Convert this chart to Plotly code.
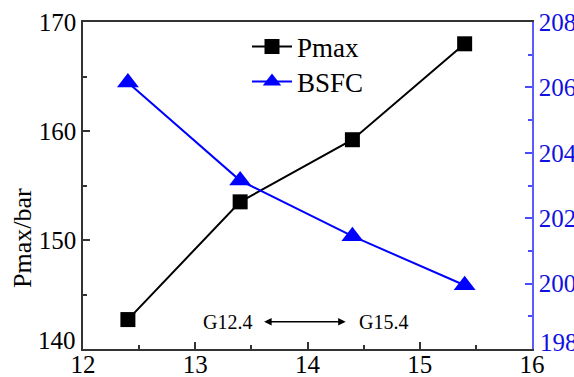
import plotly.graph_objects as go

x_vals = [12.4, 13.4, 14.4, 15.4]
pmax = [142.7, 153.5, 159.2, 168.0]
bsfc = [206.15, 203.15, 201.45, 199.95]

x_ticks = [12, 13, 14, 15, 16]
y1_ticks = [140, 150, 160, 170]
y2_ticks = [198, 200, 202, 204, 206, 208]

FONT = "Liberation Serif"
W, H = 574, 377
ml, mr, mt, mb = 83, 42, 22, 28
pw, ph = W - ml - mr, H - mt - mb

def px_x(p):
    return (p - ml) / pw

def px_y(p):
    return 1 - (p - mt) / ph

# lowest labels are lifted off the corner (drawn as annotations below)
y1_text = ["" if v == y1_ticks[0] else str(v) for v in y1_ticks]
y2_text = ["" if v == y2_ticks[0] else str(v) for v in y2_ticks]

fig = go.Figure()
fig.add_trace(go.Scatter(
    x=x_vals, y=pmax, name="Pmax", mode="lines+markers", legend="legend",
    line=dict(color="black", width=2),
    marker=dict(symbol="square", size=15, color="black"),
))
fig.add_trace(go.Scatter(
    x=x_vals, y=bsfc, name="BSFC", mode="lines+markers", yaxis="y2", legend="legend2",
    line=dict(color="#0000ff", width=2),
    marker=dict(symbol="triangle-up", size=19, color="#0000ff"),
))

leg_common = dict(xanchor="left", yanchor="middle", bgcolor="rgba(0,0,0,0)",
                  font=dict(size=27, family=FONT), itemwidth=40)

fig.update_layout(
    width=W, height=H,
    margin=dict(l=ml, r=mr, t=mt, b=mb, autoexpand=False),
    paper_bgcolor="white", plot_bgcolor="white",
    font=dict(family=FONT, size=25, color="black"),
    showlegend=True,
    legend=dict(x=px_x(247), y=px_y(47), **leg_common),
    legend2=dict(x=px_x(247), y=px_y(82), **leg_common),
    xaxis=dict(range=[12, 16], tickvals=x_ticks, ticks="inside", ticklen=7,
               tickwidth=1.5, tickcolor="#333", showline=True, linecolor="#333",
               linewidth=1.5, mirror=True, showgrid=False, zeroline=False,
               automargin=False, ticklabelstandoff=-8,
               minor=dict(dtick=0.5, ticks="inside", ticklen=4, tickcolor="#333"),
               tickfont=dict(size=25, family=FONT)),
    yaxis=dict(range=[140, 170], tickvals=y1_ticks, ticktext=y1_text,
               ticks="inside", ticklen=7,
               tickwidth=1.5, tickcolor="#333", showline=True, linecolor="#333",
               linewidth=1.5, showgrid=False, zeroline=False, automargin=False,
               minor=dict(dtick=5, ticks="inside", ticklen=4, tickcolor="#333"),
               tickfont=dict(size=25, family=FONT)),
    yaxis2=dict(range=[198, 208], tickvals=y2_ticks, ticktext=y2_text,
                overlaying="y", side="right",
                ticks="inside", ticklen=7, tickwidth=1.5, tickcolor="#4a4aff",
                showline=True, linecolor="#5a5aff", linewidth=1.5,
                showgrid=False, zeroline=False, automargin=False,
                minor=dict(dtick=1, ticks="inside", ticklen=4, tickcolor="#4a4aff"),
                tickfont=dict(size=25, family=FONT, color="#1010e0")),
)

# lifted corner labels
fig.add_annotation(text=str(y1_ticks[0]), xref="paper", yref="paper",
                   x=px_x(78), y=px_y(340), xanchor="right", yanchor="middle",
                   showarrow=False, font=dict(size=25, family=FONT, color="black"))
fig.add_annotation(text=str(y2_ticks[0]), xref="paper", yref="paper",
                   x=px_x(538), y=px_y(342), xanchor="left", yanchor="middle",
                   showarrow=False, font=dict(size=25, family=FONT, color="#1010e0"))

# y-axis title placed as in reference
fig.add_annotation(text="Pmax/bar", xref="paper", yref="paper",
                   x=px_x(22), y=px_y(238), xanchor="center", yanchor="middle",
                   textangle=-90, showarrow=False,
                   font=dict(size=26, family=FONT, color="black"))

# G12.4 <-> G15.4 annotation
fig.add_annotation(text="G12.4", x=13.29, y=142.5, xref="x", yref="y",
                   showarrow=False, font=dict(size=20, family=FONT))
fig.add_annotation(text="G15.4", x=14.68, y=142.5, xref="x", yref="y",
                   showarrow=False, font=dict(size=20, family=FONT))
fig.add_annotation(text="", x=14.34, y=142.5, ax=13.60, ay=142.5,
                   xref="x", yref="y", axref="x", ayref="y",
                   showarrow=True, arrowhead=2, startarrowhead=2,
                   arrowside="end+start", arrowsize=1, arrowwidth=1.5,
                   arrowcolor="black")

fig.write_html("out.html")
